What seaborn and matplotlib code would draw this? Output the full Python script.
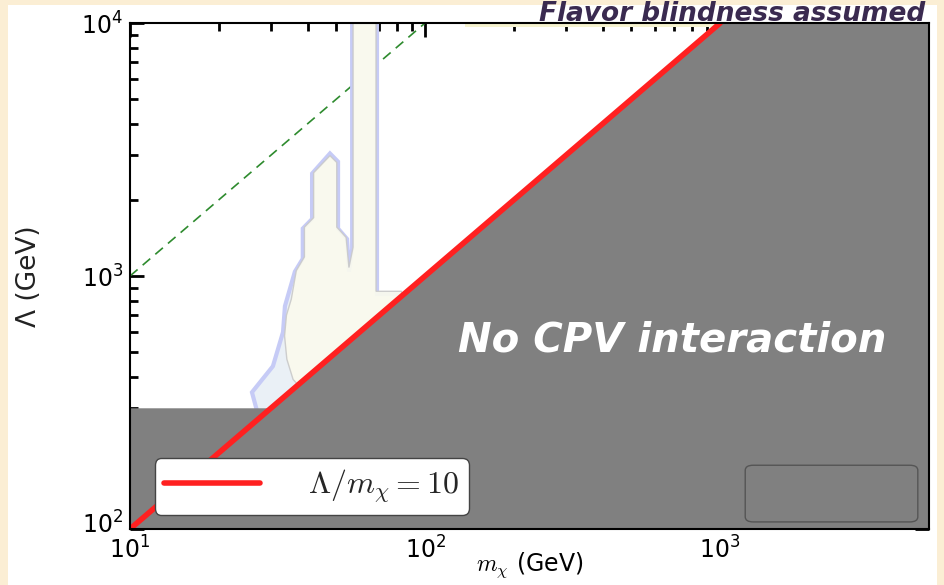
import numpy as np
import pandas as pd
import seaborn as sns
import matplotlib.pyplot as plt
import matplotlib.transforms as mtransforms
from matplotlib.patches import Rectangle, FancyBboxPatch

sns.set_theme(style="ticks")
plt.rcParams['font.family'] = ['DejaVu Sans']
plt.rcParams['mathtext.fontset'] = 'cm'

# ---- data ----
# Lambda / m_chi = 10 line
m_line = [10, 1000]
lam_line = [100, 10000]
# Lambda / m_chi = 100 (green dashed)
m_dash = [10, 100]
lam_dash = [1000, 10000]
# excluded region boundary (grey): max(300, 10 m_chi)
m_gray = [10, 30, 5100]
lam_gray = [300, 300, 51000]
# allowed region, outer contour
m_outer = [27.0, 25.9, 30.5, 33.0, 33.5, 36.2, 38.5, 38.5, 41.4, 41.4, 47.6, 50.7,
           50.7, 54.4, 55.2, 56.6, 56.6, 68.7, 68.7, 84.0, 85.0, 30.0]
lam_outer = [290, 347, 440, 600, 760, 1040, 1170, 1540, 1680, 2540, 3050, 2830,
             1540, 1400, 1040, 1280, 10000, 10000, 849, 849, 820, 280]
# allowed region, inner contour
m_inner = [38.0, 35.7, 34.0, 33.4, 33.9, 35.2, 36.6, 39.0, 39.0, 41.9, 41.9, 47.6, 50.2,
           50.2, 54.0, 55.2, 57.0, 57.0, 68.2, 68.2, 83.0, 85.0, 40.0]
lam_inner = [360, 390, 469, 580, 700, 810, 1050, 1190, 1560, 1700, 2560, 2990, 2810,
             1560, 1420, 1080, 1300, 10000, 10000, 870, 870, 820, 370]
# thin sliver of the region along the top edge
m_strip = [137, 1000]
lam_strip_lo = [9600, 9600]
lam_strip_hi = [10000, 10000]

fig = plt.figure(figsize=(9.45, 5.85), dpi=100)
fig.patch.set_facecolor('#fbeed4')
fig.patches.append(Rectangle((8 / 945, 0), 929 / 945, 580 / 585, transform=fig.transFigure,
                             facecolor='white', edgecolor='none', zorder=-1))
ax = fig.add_axes([130 / 945, 1 - 529 / 585, 799 / 945, 506 / 585])
ax.set_xscale('log')
ax.set_yscale('log')

# green dashed line
sns.lineplot(x=m_dash, y=lam_dash, ax=ax, color='#2e8b2e', lw=1.2, linestyle=(0, (6, 4)),
             zorder=1, legend=False)

# allowed region
ax.fill(m_outer, lam_outer, facecolor='#eaf0f6', edgecolor='#c6cbf6', lw=3, zorder=1.5)
ax.fill(m_inner, lam_inner, facecolor='#fbfbee', edgecolor='#c9c9c9', lw=1, alpha=0.9, zorder=1.6)
ax.fill_between(m_strip, lam_strip_lo, lam_strip_hi, facecolor='#f6f3cf', edgecolor='none',
                zorder=1.6)

# excluded region
ax.fill_between(m_gray, 90, lam_gray, color='#808080', lw=0, zorder=2)

# red line
df = pd.DataFrame({'m': m_line, 'lam': lam_line})
sns.lineplot(data=df, x='m', y='lam', ax=ax, color='#ff2020', lw=4, zorder=2.2,
             label=r'$\Lambda/m_\chi = 10$')

ax.set_xlim(10, 5100)
ax.set_ylim(100, 10000)

leg = ax.legend(loc='lower left', bbox_to_anchor=(0.031, 0.028), borderaxespad=0,
                fontsize=23, handlelength=3.0, handletextpad=1.5, borderpad=0.3,
                frameon=True, fancybox=True, framealpha=1, edgecolor='#444444')
leg.set_zorder(10)

# empty frame at bottom right
ax.add_patch(FancyBboxPatch((0.77, 0.014), 0.216, 0.112, boxstyle='round,pad=0,rounding_size=0.01',
                            transform=ax.transAxes, facecolor='none', edgecolor='#555555',
                            lw=1, zorder=5))

ax.text(0.678, 0.3735, 'No CPV interaction', transform=ax.transAxes, ha='center', va='center',
        color='white', fontsize=29, fontweight='bold', fontstyle='italic', zorder=6)
fig.text(0.979, 1 - 1 / 585, 'Flavor blindness assumed', ha='right', va='top',
         color='#3a2a50', fontsize=19, fontweight='bold', fontstyle='italic')

for s in ax.spines.values():
    s.set_color('black')
    s.set_linewidth(1.5)
    s.set_zorder(7)
ax.tick_params(which='both', direction='in', top=True, right=True, color='black', width=2,
               labelcolor='black')
ax.tick_params(which='major', length=10, labelsize=17, pad=5)
ax.tick_params(axis='x', which='major', pad=5)
ax.tick_params(which='minor', length=6)
ax.set_xlabel(r'$m_\chi$ (GeV)', fontsize=17, labelpad=-9, color='black')
ax.set_ylabel('Λ (GeV)', fontsize=19, labelpad=28, color='#222222')

# lift the bottom y tick label a little so it clears the 10^1 label
fig.canvas.draw()
shift = mtransforms.ScaledTranslation(0, 7 / 100, fig.dpi_scale_trans)
for lab in ax.get_yticklabels():
    if abs(lab.get_position()[1] - 100) < 1:
        lab.set_transform(lab.get_transform() + shift)

fig.savefig('out.png', dpi=100, facecolor=fig.get_facecolor())
